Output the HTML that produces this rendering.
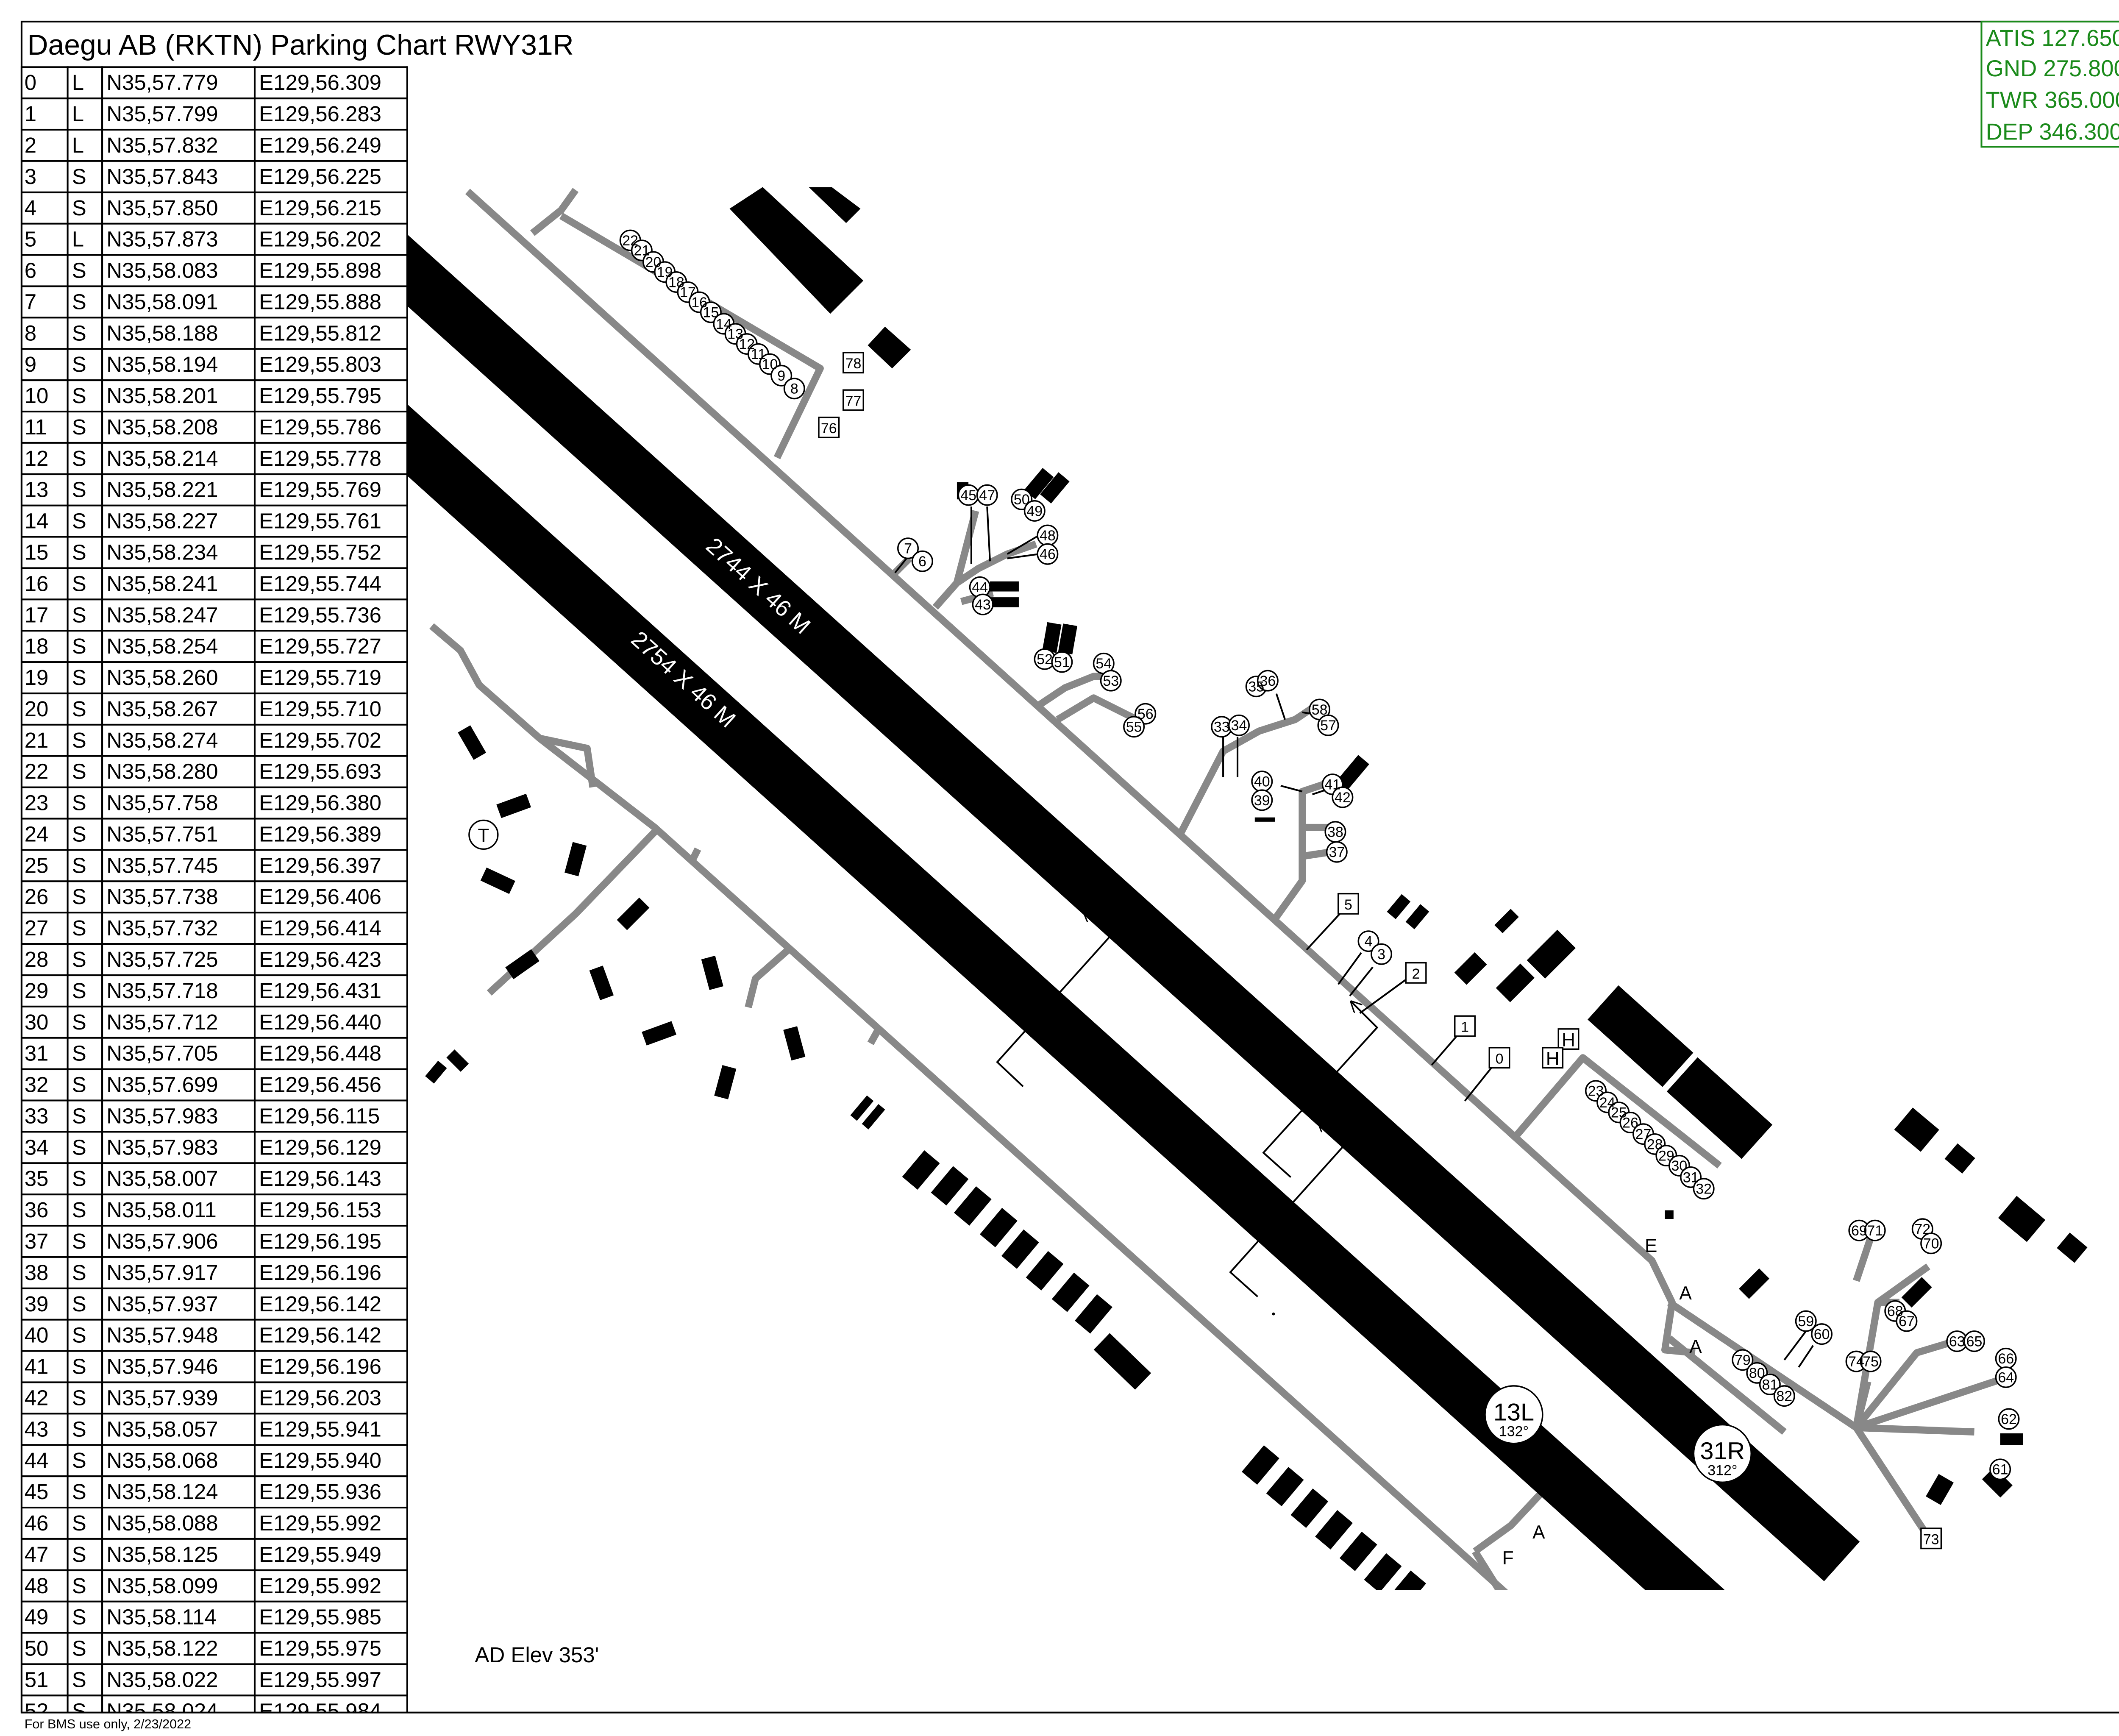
<!DOCTYPE html>
<html><head><meta charset="utf-8"><style>
html,body{margin:0;padding:0;background:#fff;overflow:hidden;}
svg{display:block;}
text{font-family:"Liberation Sans",sans-serif;}
</style></head><body>
<svg width="5324" height="4096" viewBox="0 0 1568 1206.3" preserveAspectRatio="none" xmlns="http://www.w3.org/2000/svg">
<defs>
<clipPath id="map"><rect x="283" y="100" width="1270" height="1005"/></clipPath>
<clipPath id="tbl"><rect x="14" y="45" width="270" height="1145"/></clipPath>
<pattern id="rows" x="0" y="46" width="300" height="21.76" patternUnits="userSpaceOnUse"><line x1="0" y1="0.6" x2="300" y2="0.6" stroke="#000" stroke-width="1.2"/></pattern>
<marker id="ah" viewBox="0 0 10 10" refX="9" refY="5" markerWidth="8" markerHeight="8" orient="auto" markerUnits="userSpaceOnUse"><path d="M0,0 L10,5 L0,10" fill="none" stroke="#000" stroke-width="1.2"/></marker>
</defs>
<rect x="15" y="15" width="1538" height="1175" fill="none" stroke="#000" stroke-width="1.2"/>
<text x="19" y="38" font-size="20">Daegu AB (RKTN) Parking Chart RWY31R</text>
<rect x="1377" y="15" width="176" height="87" fill="none" stroke="#1a8a1a" stroke-width="1.2"/>
<g fill="#1a8a1a" font-size="16">
<text x="1380" y="32">ATIS 127.650</text>
<text x="1380" y="53">GND 275.800</text>
<text x="1380" y="75">TWR 365.000 126.200</text>
<text x="1380" y="97">DEP 346.300</text>
</g>
<g clip-path="url(#tbl)" font-size="15">
<rect x="15" y="46" width="268" height="1144" fill="url(#rows)"/>
<g stroke="#000" stroke-width="1.2">
<line x1="15" y1="46" x2="15" y2="1190"/><line x1="47" y1="46" x2="47" y2="1190"/><line x1="71" y1="46" x2="71" y2="1190"/><line x1="177" y1="46" x2="177" y2="1190"/><line x1="283" y1="46" x2="283" y2="1190"/>
</g>
<text y="62.5"><tspan x="17">0</tspan><tspan x="50">L</tspan><tspan x="74">N35,57.779</tspan><tspan x="180">E129,56.309</tspan></text>
<text y="84.26"><tspan x="17">1</tspan><tspan x="50">L</tspan><tspan x="74">N35,57.799</tspan><tspan x="180">E129,56.283</tspan></text>
<text y="106.02"><tspan x="17">2</tspan><tspan x="50">L</tspan><tspan x="74">N35,57.832</tspan><tspan x="180">E129,56.249</tspan></text>
<text y="127.78"><tspan x="17">3</tspan><tspan x="50">S</tspan><tspan x="74">N35,57.843</tspan><tspan x="180">E129,56.225</tspan></text>
<text y="149.54"><tspan x="17">4</tspan><tspan x="50">S</tspan><tspan x="74">N35,57.850</tspan><tspan x="180">E129,56.215</tspan></text>
<text y="171.3"><tspan x="17">5</tspan><tspan x="50">L</tspan><tspan x="74">N35,57.873</tspan><tspan x="180">E129,56.202</tspan></text>
<text y="193.06"><tspan x="17">6</tspan><tspan x="50">S</tspan><tspan x="74">N35,58.083</tspan><tspan x="180">E129,55.898</tspan></text>
<text y="214.82"><tspan x="17">7</tspan><tspan x="50">S</tspan><tspan x="74">N35,58.091</tspan><tspan x="180">E129,55.888</tspan></text>
<text y="236.58"><tspan x="17">8</tspan><tspan x="50">S</tspan><tspan x="74">N35,58.188</tspan><tspan x="180">E129,55.812</tspan></text>
<text y="258.34"><tspan x="17">9</tspan><tspan x="50">S</tspan><tspan x="74">N35,58.194</tspan><tspan x="180">E129,55.803</tspan></text>
<text y="280.1"><tspan x="17">10</tspan><tspan x="50">S</tspan><tspan x="74">N35,58.201</tspan><tspan x="180">E129,55.795</tspan></text>
<text y="301.86"><tspan x="17">11</tspan><tspan x="50">S</tspan><tspan x="74">N35,58.208</tspan><tspan x="180">E129,55.786</tspan></text>
<text y="323.62"><tspan x="17">12</tspan><tspan x="50">S</tspan><tspan x="74">N35,58.214</tspan><tspan x="180">E129,55.778</tspan></text>
<text y="345.38"><tspan x="17">13</tspan><tspan x="50">S</tspan><tspan x="74">N35,58.221</tspan><tspan x="180">E129,55.769</tspan></text>
<text y="367.14"><tspan x="17">14</tspan><tspan x="50">S</tspan><tspan x="74">N35,58.227</tspan><tspan x="180">E129,55.761</tspan></text>
<text y="388.9"><tspan x="17">15</tspan><tspan x="50">S</tspan><tspan x="74">N35,58.234</tspan><tspan x="180">E129,55.752</tspan></text>
<text y="410.66"><tspan x="17">16</tspan><tspan x="50">S</tspan><tspan x="74">N35,58.241</tspan><tspan x="180">E129,55.744</tspan></text>
<text y="432.42"><tspan x="17">17</tspan><tspan x="50">S</tspan><tspan x="74">N35,58.247</tspan><tspan x="180">E129,55.736</tspan></text>
<text y="454.18"><tspan x="17">18</tspan><tspan x="50">S</tspan><tspan x="74">N35,58.254</tspan><tspan x="180">E129,55.727</tspan></text>
<text y="475.94"><tspan x="17">19</tspan><tspan x="50">S</tspan><tspan x="74">N35,58.260</tspan><tspan x="180">E129,55.719</tspan></text>
<text y="497.7"><tspan x="17">20</tspan><tspan x="50">S</tspan><tspan x="74">N35,58.267</tspan><tspan x="180">E129,55.710</tspan></text>
<text y="519.46"><tspan x="17">21</tspan><tspan x="50">S</tspan><tspan x="74">N35,58.274</tspan><tspan x="180">E129,55.702</tspan></text>
<text y="541.22"><tspan x="17">22</tspan><tspan x="50">S</tspan><tspan x="74">N35,58.280</tspan><tspan x="180">E129,55.693</tspan></text>
<text y="562.98"><tspan x="17">23</tspan><tspan x="50">S</tspan><tspan x="74">N35,57.758</tspan><tspan x="180">E129,56.380</tspan></text>
<text y="584.74"><tspan x="17">24</tspan><tspan x="50">S</tspan><tspan x="74">N35,57.751</tspan><tspan x="180">E129,56.389</tspan></text>
<text y="606.5"><tspan x="17">25</tspan><tspan x="50">S</tspan><tspan x="74">N35,57.745</tspan><tspan x="180">E129,56.397</tspan></text>
<text y="628.26"><tspan x="17">26</tspan><tspan x="50">S</tspan><tspan x="74">N35,57.738</tspan><tspan x="180">E129,56.406</tspan></text>
<text y="650.02"><tspan x="17">27</tspan><tspan x="50">S</tspan><tspan x="74">N35,57.732</tspan><tspan x="180">E129,56.414</tspan></text>
<text y="671.78"><tspan x="17">28</tspan><tspan x="50">S</tspan><tspan x="74">N35,57.725</tspan><tspan x="180">E129,56.423</tspan></text>
<text y="693.54"><tspan x="17">29</tspan><tspan x="50">S</tspan><tspan x="74">N35,57.718</tspan><tspan x="180">E129,56.431</tspan></text>
<text y="715.3"><tspan x="17">30</tspan><tspan x="50">S</tspan><tspan x="74">N35,57.712</tspan><tspan x="180">E129,56.440</tspan></text>
<text y="737.06"><tspan x="17">31</tspan><tspan x="50">S</tspan><tspan x="74">N35,57.705</tspan><tspan x="180">E129,56.448</tspan></text>
<text y="758.82"><tspan x="17">32</tspan><tspan x="50">S</tspan><tspan x="74">N35,57.699</tspan><tspan x="180">E129,56.456</tspan></text>
<text y="780.58"><tspan x="17">33</tspan><tspan x="50">S</tspan><tspan x="74">N35,57.983</tspan><tspan x="180">E129,56.115</tspan></text>
<text y="802.34"><tspan x="17">34</tspan><tspan x="50">S</tspan><tspan x="74">N35,57.983</tspan><tspan x="180">E129,56.129</tspan></text>
<text y="824.1"><tspan x="17">35</tspan><tspan x="50">S</tspan><tspan x="74">N35,58.007</tspan><tspan x="180">E129,56.143</tspan></text>
<text y="845.86"><tspan x="17">36</tspan><tspan x="50">S</tspan><tspan x="74">N35,58.011</tspan><tspan x="180">E129,56.153</tspan></text>
<text y="867.62"><tspan x="17">37</tspan><tspan x="50">S</tspan><tspan x="74">N35,57.906</tspan><tspan x="180">E129,56.195</tspan></text>
<text y="889.38"><tspan x="17">38</tspan><tspan x="50">S</tspan><tspan x="74">N35,57.917</tspan><tspan x="180">E129,56.196</tspan></text>
<text y="911.14"><tspan x="17">39</tspan><tspan x="50">S</tspan><tspan x="74">N35,57.937</tspan><tspan x="180">E129,56.142</tspan></text>
<text y="932.9"><tspan x="17">40</tspan><tspan x="50">S</tspan><tspan x="74">N35,57.948</tspan><tspan x="180">E129,56.142</tspan></text>
<text y="954.66"><tspan x="17">41</tspan><tspan x="50">S</tspan><tspan x="74">N35,57.946</tspan><tspan x="180">E129,56.196</tspan></text>
<text y="976.42"><tspan x="17">42</tspan><tspan x="50">S</tspan><tspan x="74">N35,57.939</tspan><tspan x="180">E129,56.203</tspan></text>
<text y="998.18"><tspan x="17">43</tspan><tspan x="50">S</tspan><tspan x="74">N35,58.057</tspan><tspan x="180">E129,55.941</tspan></text>
<text y="1019.94"><tspan x="17">44</tspan><tspan x="50">S</tspan><tspan x="74">N35,58.068</tspan><tspan x="180">E129,55.940</tspan></text>
<text y="1041.7"><tspan x="17">45</tspan><tspan x="50">S</tspan><tspan x="74">N35,58.124</tspan><tspan x="180">E129,55.936</tspan></text>
<text y="1063.46"><tspan x="17">46</tspan><tspan x="50">S</tspan><tspan x="74">N35,58.088</tspan><tspan x="180">E129,55.992</tspan></text>
<text y="1085.22"><tspan x="17">47</tspan><tspan x="50">S</tspan><tspan x="74">N35,58.125</tspan><tspan x="180">E129,55.949</tspan></text>
<text y="1106.98"><tspan x="17">48</tspan><tspan x="50">S</tspan><tspan x="74">N35,58.099</tspan><tspan x="180">E129,55.992</tspan></text>
<text y="1128.74"><tspan x="17">49</tspan><tspan x="50">S</tspan><tspan x="74">N35,58.114</tspan><tspan x="180">E129,55.985</tspan></text>
<text y="1150.5"><tspan x="17">50</tspan><tspan x="50">S</tspan><tspan x="74">N35,58.122</tspan><tspan x="180">E129,55.975</tspan></text>
<text y="1172.26"><tspan x="17">51</tspan><tspan x="50">S</tspan><tspan x="74">N35,58.022</tspan><tspan x="180">E129,55.997</tspan></text>
<text y="1194.02"><tspan x="17">52</tspan><tspan x="50">S</tspan><tspan x="74">N35,58.024</tspan><tspan x="180">E129,55.984</tspan></text>
</g>
<g clip-path="url(#map)">
<g fill="none" stroke="#888" stroke-width="5" stroke-linejoin="round">
<polyline points="325,133 1148,876 1162,905 1157,938 1178,940"/>
<polyline points="370,162 390,146 400,132"/>
<polyline points="390,150 570,256 540,318"/>
<polyline points="622,398 632,388"/>
<polyline points="650,422 665,405 680,395 700,385 720,378"/>
<polyline points="665,405 678,355"/>
<polyline points="668,418 690,412"/>
<polyline points="722,490 740,478 760,470 775,470"/>
<polyline points="735,500 760,485 790,500"/>
<polyline points="820,580 850,522 875,508 900,500 915,490"/>
<polyline points="885,640 905,612 905,550 920,545"/>
<polyline points="905,575 925,575"/>
<polyline points="905,595 925,592"/>
<polyline points="1053,790 1100,735 1195,810"/>
<polyline points="1160,905 1290,992 1340,1068"/>
<polyline points="1290,992 1332,940 1365,930"/>
<polyline points="1290,992 1392,958"/>
<polyline points="1290,992 1372,995"/>
<polyline points="1290,992 1298,960"/>
<polyline points="1290,992 1305,905 1340,880"/>
<polyline points="1290,890 1300,860"/>
<polyline points="1305,905 1320,905"/>
<polyline points="1160,930 1240,995"/>
<polyline points="1025,1078 1050,1060 1080,1028"/>
<polyline points="1025,1078 1045,1110"/>
<polyline points="300,435 320,452 333,476 375,513 408,520 412,547"/>
<polyline points="375,513 455,575 1050,1110"/>
<polyline points="340,690 400,635 455,578"/>
<polyline points="480,600 485,590"/>
<polyline points="520,700 525,680 550,658"/>
<polyline points="605,725 610,716"/>
</g>
<line x1="270" y1="176" x2="1280" y2="1085" stroke="#000" stroke-width="37"/>
<line x1="270" y1="294" x2="1210" y2="1140" stroke="#000" stroke-width="37"/>
<text x="0" y="5.5" font-size="16" fill="#fff" text-anchor="middle" transform="translate(527,407) rotate(42)">2744 X 46 M</text>
<text x="0" y="5.5" font-size="16" fill="#fff" text-anchor="middle" transform="translate(475,472) rotate(42)">2754 X 46 M</text>
<g fill="none" stroke="#000" stroke-width="1.2">
<polyline points="711,755 693,738 772,650 753,633" marker-end="url(#ah)"/>
<polyline points="897,818 878,801 957,714 939,696" marker-end="url(#ah)"/>
<polyline points="874,901 855,884 934,796 916,779" marker-end="url(#ah)"/>
</g>
<circle cx="885" cy="913" r="1" fill="#000"/>
<g fill="#000">
<polygon points="507,145 530,130 600,195 577,218"/>
<polygon points="562,130 578,130 598,145 588,155"/>
<polygon points="615,227 633,243 620,256 603,240"/>
<rect x="-5" y="-11" width="10" height="22" transform="translate(328,516) rotate(-30)"/>
<rect x="-11" y="-5" width="22" height="10" transform="translate(357,560) rotate(-20)"/>
<rect x="-11" y="-5" width="22" height="10" transform="translate(346,612) rotate(25)"/>
<rect x="-5" y="-11" width="10" height="22" transform="translate(400,597) rotate(15)"/>
<rect x="-11" y="-5" width="22" height="10" transform="translate(440,635) rotate(-45)"/>
<rect x="-11" y="-5" width="22" height="10" transform="translate(363,670) rotate(-35)"/>
<rect x="-5" y="-11" width="10" height="22" transform="translate(418,683) rotate(-20)"/>
<rect x="-5" y="-11" width="10" height="22" transform="translate(495,676) rotate(-15)"/>
<rect x="-11" y="-5" width="22" height="10" transform="translate(458,718) rotate(-20)"/>
<rect x="-5" y="-11" width="10" height="22" transform="translate(552,725) rotate(-15)"/>
<rect x="-5" y="-11" width="10" height="22" transform="translate(504,752) rotate(15)"/>
<rect x="-4" y="-7" width="8" height="14" transform="translate(303,745) rotate(40)"/>
<rect x="-4" y="-7" width="8" height="14" transform="translate(318,737) rotate(-45)"/>
<rect x="-3" y="-9" width="6" height="18" transform="translate(599,770) rotate(40)"/>
<rect x="-3" y="-9" width="6" height="18" transform="translate(607,776) rotate(40)"/>
<rect x="-7" y="-12" width="14" height="24" transform="translate(640,813) rotate(40)"/>
<rect x="-7" y="-12" width="14" height="24" transform="translate(660,824) rotate(40)"/>
<rect x="-7" y="-12" width="14" height="24" transform="translate(676,838) rotate(40)"/>
<rect x="-7" y="-12" width="14" height="24" transform="translate(694,853) rotate(40)"/>
<rect x="-7" y="-12" width="14" height="24" transform="translate(709,868) rotate(40)"/>
<rect x="-7" y="-12" width="14" height="24" transform="translate(726,883) rotate(40)"/>
<rect x="-7" y="-12" width="14" height="24" transform="translate(744,898) rotate(40)"/>
<rect x="-7" y="-12" width="14" height="24" transform="translate(760,913) rotate(40)"/>
<rect x="-20" y="-8" width="40" height="16" transform="translate(780,946) rotate(44)"/>
<rect x="-7" y="-12" width="14" height="24" transform="translate(876,1018) rotate(40)"/>
<rect x="-7" y="-12" width="14" height="24" transform="translate(893,1033) rotate(40)"/>
<rect x="-7" y="-12" width="14" height="24" transform="translate(910,1048) rotate(40)"/>
<rect x="-7" y="-12" width="14" height="24" transform="translate(927,1063) rotate(40)"/>
<rect x="-7" y="-12" width="14" height="24" transform="translate(944,1078) rotate(40)"/>
<rect x="-7" y="-12" width="14" height="24" transform="translate(961,1093) rotate(40)"/>
<rect x="-7" y="-12" width="14" height="24" transform="translate(978,1105) rotate(40)"/>
<rect x="-35" y="-16" width="70" height="32" transform="translate(1140,720) rotate(42)"/>
<rect x="-35" y="-16" width="70" height="32" transform="translate(1195,770) rotate(42)"/>
<rect x="-15" y="-9" width="30" height="18" transform="translate(1078,663) rotate(-45)"/>
<rect x="-12" y="-7" width="24" height="14" transform="translate(1053,683) rotate(-45)"/>
<rect x="-10" y="-6" width="20" height="12" transform="translate(1022,673) rotate(-45)"/>
<rect x="-8" y="-4" width="16" height="8" transform="translate(1047,640) rotate(-45)"/>
<rect x="-4" y="-8" width="8" height="16" transform="translate(972,630) rotate(40)"/>
<rect x="-4" y="-8" width="8" height="16" transform="translate(985,637) rotate(40)"/>
<rect x="-5" y="-12" width="10" height="24" transform="translate(940,537) rotate(40)"/>
<rect x="-5" y="-10" width="10" height="20" transform="translate(722,336) rotate(40)"/>
<rect x="-5" y="-10" width="10" height="20" transform="translate(733,339) rotate(40)"/>
<rect x="-5" y="-10" width="10" height="20" transform="translate(731,443) rotate(10)"/>
<rect x="-5" y="-10" width="10" height="20" transform="translate(742,444) rotate(10)"/>
<rect x="688" y="404" width="20" height="7"/><rect x="688" y="415" width="20" height="7"/>
<rect x="665" y="335" width="8" height="12"/>
<rect x="-10" y="-5" width="20" height="10" transform="translate(1219,892) rotate(-45)"/>
<rect x="-10" y="-5" width="20" height="10" transform="translate(1332,898) rotate(-45)"/>
<rect x="-12" y="-10" width="24" height="20" transform="translate(1332,785) rotate(40)"/>
<rect x="-8" y="-7" width="16" height="14" transform="translate(1362,805) rotate(40)"/>
<rect x="-13" y="-10" width="26" height="20" transform="translate(1405,847) rotate(40)"/>
<rect x="-8" y="-7" width="16" height="14" transform="translate(1440,867) rotate(40)"/>
<rect x="-6" y="-9" width="12" height="18" transform="translate(1348,1035) rotate(30)"/>
<rect x="-6" y="-9" width="12" height="18" transform="translate(1388,1030) rotate(-45)"/>
<rect x="1390" y="996" width="16" height="8"/>
<rect x="1157" y="841" width="6" height="6"/>
<rect x="872" y="568" width="14" height="3"/>
</g>
<g stroke="#000" stroke-width="1.2">
<line x1="908" y1="660" x2="932" y2="634"/>
<line x1="930" y1="684" x2="946" y2="662"/>
<line x1="938" y1="692" x2="954" y2="672"/>
<line x1="945" y1="704" x2="978" y2="680"/>
<line x1="995" y1="740" x2="1014" y2="718"/>
<line x1="1018" y1="765" x2="1038" y2="740"/>
<line x1="622" y1="398" x2="630" y2="388"/>
<line x1="675" y1="392" x2="675" y2="352"/>
<line x1="688" y1="390" x2="686" y2="352"/>
<line x1="700" y1="385" x2="722" y2="372"/>
<line x1="700" y1="388" x2="722" y2="385"/>
<line x1="850" y1="540" x2="850" y2="512"/>
<line x1="860" y1="540" x2="860" y2="512"/>
<line x1="893" y1="500" x2="887" y2="482"/>
<line x1="905" y1="495" x2="912" y2="496"/>
<line x1="905" y1="550" x2="890" y2="546"/>
<line x1="912" y1="552" x2="924" y2="548"/>
<line x1="1250" y1="950" x2="1260" y2="935"/>
<line x1="1240" y1="945" x2="1255" y2="925"/>
<line x1="1225" y1="950" x2="1232" y2="960"/>
</g>
</g>
<g font-size="10" text-anchor="middle">
<g fill="#fff" stroke="#000" stroke-width="1">
<circle cx="438" cy="167" r="7"/><circle cx="446" cy="174" r="7"/><circle cx="454" cy="182" r="7"/><circle cx="462" cy="189" r="7"/><circle cx="470" cy="196" r="7"/><circle cx="478" cy="203" r="7"/><circle cx="486" cy="210" r="7"/><circle cx="494" cy="217" r="7"/><circle cx="503" cy="225" r="7"/><circle cx="511" cy="232" r="7"/><circle cx="519" cy="239" r="7"/><circle cx="527" cy="246" r="7"/><circle cx="535" cy="253" r="7"/><circle cx="543" cy="261" r="7"/><circle cx="552" cy="270" r="7"/>
<circle cx="631" cy="381" r="7"/><circle cx="641" cy="390" r="7"/><circle cx="673" cy="344" r="7"/><circle cx="686" cy="344" r="7"/><circle cx="710" cy="347" r="7"/><circle cx="719" cy="355" r="7"/><circle cx="728" cy="372" r="7"/><circle cx="728" cy="385" r="7"/><circle cx="681" cy="408" r="7"/><circle cx="683" cy="420" r="7"/>
<circle cx="726" cy="458" r="7"/><circle cx="738" cy="460" r="7"/><circle cx="767" cy="461" r="7"/><circle cx="772" cy="473" r="7"/><circle cx="796" cy="496" r="7"/><circle cx="788" cy="505" r="7"/>
<circle cx="873" cy="477" r="7"/><circle cx="881" cy="473" r="7"/><circle cx="849" cy="505" r="7"/><circle cx="861" cy="504" r="7"/><circle cx="917" cy="493" r="7"/><circle cx="923" cy="504" r="7"/><circle cx="877" cy="543" r="7"/><circle cx="877" cy="556" r="7"/><circle cx="926" cy="545" r="7"/><circle cx="933" cy="554" r="7"/><circle cx="928" cy="578" r="7"/><circle cx="929" cy="592" r="7"/><circle cx="951" cy="654" r="7"/><circle cx="960" cy="663" r="7"/>
<circle cx="1109" cy="758" r="7"/><circle cx="1117" cy="766" r="7"/><circle cx="1125" cy="773" r="7"/><circle cx="1133" cy="780" r="7"/><circle cx="1142" cy="788" r="7"/><circle cx="1150" cy="795" r="7"/><circle cx="1158" cy="803" r="7"/><circle cx="1167" cy="810" r="7"/><circle cx="1175" cy="818" r="7"/><circle cx="1184" cy="826" r="7"/>
<circle cx="1292" cy="855" r="7"/><circle cx="1303" cy="855" r="7"/><circle cx="1336" cy="854" r="7"/><circle cx="1342" cy="864" r="7"/><circle cx="1317" cy="911" r="7"/><circle cx="1325" cy="918" r="7"/><circle cx="1255" cy="918" r="7"/><circle cx="1266" cy="927" r="7"/><circle cx="1211" cy="945" r="7"/><circle cx="1221" cy="954" r="7"/><circle cx="1230" cy="962" r="7"/><circle cx="1240" cy="970" r="7"/><circle cx="1290" cy="946" r="7"/><circle cx="1300" cy="946" r="7"/><circle cx="1360" cy="932" r="7"/><circle cx="1372" cy="932" r="7"/><circle cx="1394" cy="944" r="7"/><circle cx="1394" cy="957" r="7"/><circle cx="1396" cy="986" r="7"/><circle cx="1390" cy="1021" r="7"/>
<rect x="586" y="245" width="14" height="14"/><rect x="586" y="271" width="14" height="14"/><rect x="569" y="290" width="14" height="14"/><rect x="930" y="621" width="14" height="14"/><rect x="977" y="669" width="14" height="14"/><rect x="1011" y="706" width="14" height="14"/><rect x="1035" y="728" width="14" height="14"/><rect x="1083" y="715" width="14" height="14"/><rect x="1072" y="728" width="14" height="14"/><rect x="1335" y="1062" width="14" height="14"/>
</g>
<text x="438" y="170.5">22</text><text x="446" y="177.5">21</text><text x="454" y="185.5">20</text><text x="462" y="192.5">19</text><text x="470" y="199.5">18</text><text x="478" y="206.5">17</text><text x="486" y="213.5">16</text><text x="494" y="220.5">15</text><text x="503" y="228.5">14</text><text x="511" y="235.5">13</text><text x="519" y="242.5">12</text><text x="527" y="249.5">11</text><text x="535" y="256.5">10</text><text x="543" y="264.5">9</text><text x="552" y="273.5">8</text>
<text x="631" y="384.5">7</text><text x="641" y="393.5">6</text><text x="673" y="347.5">45</text><text x="686" y="347.5">47</text><text x="710" y="350.5">50</text><text x="719" y="358.5">49</text><text x="728" y="375.5">48</text><text x="728" y="388.5">46</text><text x="681" y="411.5">44</text><text x="683" y="423.5">43</text>
<text x="726" y="461.5">52</text><text x="738" y="463.5">51</text><text x="767" y="464.5">54</text><text x="772" y="476.5">53</text><text x="796" y="499.5">56</text><text x="788" y="508.5">55</text>
<text x="873" y="480.5">35</text><text x="881" y="476.5">36</text><text x="849" y="508.5">33</text><text x="861" y="507.5">34</text><text x="917" y="496.5">58</text><text x="923" y="507.5">57</text><text x="877" y="546.5">40</text><text x="877" y="559.5">39</text><text x="926" y="548.5">41</text><text x="933" y="557.5">42</text><text x="928" y="581.5">38</text><text x="929" y="595.5">37</text><text x="951" y="657.5">4</text><text x="960" y="666.5">3</text>
<text x="1109" y="761.5">23</text><text x="1117" y="769.5">24</text><text x="1125" y="776.5">25</text><text x="1133" y="783.5">26</text><text x="1142" y="791.5">27</text><text x="1150" y="798.5">28</text><text x="1158" y="806.5">29</text><text x="1167" y="813.5">30</text><text x="1175" y="821.5">31</text><text x="1184" y="829.5">32</text>
<text x="1292" y="858.5">69</text><text x="1303" y="858.5">71</text><text x="1336" y="857.5">72</text><text x="1342" y="867.5">70</text><text x="1317" y="914.5">68</text><text x="1325" y="921.5">67</text><text x="1255" y="921.5">59</text><text x="1266" y="930.5">60</text><text x="1211" y="948.5">79</text><text x="1221" y="957.5">80</text><text x="1230" y="965.5">81</text><text x="1240" y="973.5">82</text><text x="1290" y="949.5">74</text><text x="1300" y="949.5">75</text><text x="1360" y="935.5">63</text><text x="1372" y="935.5">65</text><text x="1394" y="947.5">66</text><text x="1394" y="960.5">64</text><text x="1396" y="989.5">62</text><text x="1390" y="1024.5">61</text>
<text x="593" y="256">78</text><text x="593" y="282">77</text><text x="576" y="301">76</text><text x="937" y="632">5</text><text x="984" y="680">2</text><text x="1018" y="717">1</text><text x="1042" y="739">0</text><text x="1090" y="727" font-size="13">H</text><text x="1079" y="740" font-size="13">H</text><text x="1342" y="1073">73</text>
</g>
<text x="1143" y="870" font-size="13">E</text>
<text x="1167" y="903" font-size="13">A</text>
<text x="1174" y="940" font-size="13">A</text>
<text x="1065" y="1069" font-size="13">A</text>
<text x="1044" y="1087" font-size="13">F</text>
<circle cx="1052" cy="983" r="20" fill="#fff" stroke="#000"/>
<text x="1052" y="987" font-size="17" text-anchor="middle">13L</text>
<text x="1052" y="998" font-size="10" text-anchor="middle">132°</text>
<circle cx="1197" cy="1010" r="20" fill="#fff" stroke="#000"/>
<text x="1197" y="1014" font-size="17" text-anchor="middle">31R</text>
<text x="1197" y="1025" font-size="10" text-anchor="middle">312°</text>
<circle cx="336" cy="580" r="10" fill="#fff" stroke="#000"/>
<text x="336" y="585" font-size="13" text-anchor="middle">T</text>
<text x="330" y="1155" font-size="15">AD Elev 353'</text>
<text x="17" y="1201" font-size="9">For BMS  use only, 2/23/2022</text>
</svg>
</body></html>
